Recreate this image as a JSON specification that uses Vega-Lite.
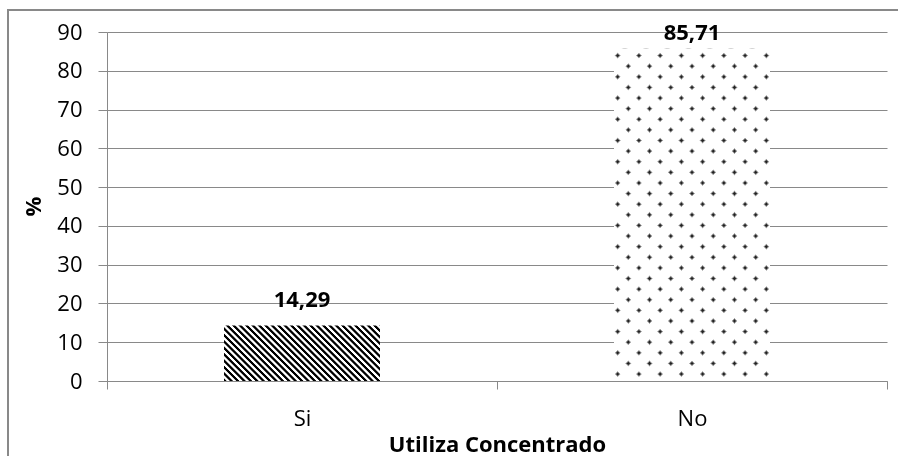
{
  "$schema": "https://vega.github.io/schema/vega-lite/v6.json",
  "width": 900,
  "height": 457,
  "autosize": {"type": "none"},
  "padding": {"left": 8, "top": 10, "right": -10, "bottom": -11},
  "background": "white",
  "config": {"view": {"stroke": "#898989", "strokeWidth": 2}, "font": "Open Sans"},
  "data": {"values": [
    {"Utiliza": "Si", "pct": 14.29, "label": "14,29"},
    {"Utiliza": "No", "pct": 85.71, "label": "85,71"}
  ]},
  "encoding": {
    "x": {
      "field": "Utiliza", "type": "nominal", "sort": ["Si", "No"],
      "scale": {"range": [99, 879], "paddingInner": 0, "paddingOuter": 0},
      "axis": {
        "title": "Utiliza Concentrado", "orient": "bottom", "offset": -86, "labelAngle": 0,
        "tickBand": "extent", "tickSize": 8, "tickColor": "#898989", "domainColor": "#898989",
        "labelFont": "Open Sans", "labelFontSize": 22, "labelColor": "#000", "labelBaseline": "alphabetic", "labelPadding": 36,
        "titleFont": "Open Sans", "titleFontSize": 22, "titleFontWeight": "bold", "titleColor": "#000",
        "titleX": 489, "titleY": 70, "titleBaseline": "alphabetic", "titleAlign": "center"
      }
    },
    "y": {
      "field": "pct", "type": "quantitative",
      "scale": {"domain": [0, 90], "range": [371, 22], "nice": false},
      "axis": {
        "title": "%", "offset": -99, "values": [0, 10, 20, 30, 40, 50, 60, 70, 80, 90],
        "grid": true, "gridColor": "#898989", "tickSize": 9, "tickColor": "#898989", "domainColor": "#898989",
        "labelFont": "Open Sans", "labelFontSize": 22, "labelColor": "#000", "labelPadding": 16,
        "titleFont": "Open Sans", "titleFontSize": 22, "titleFontWeight": "bold", "titleColor": "#000",
        "titleX": -67, "titleY": 196, "titleAngle": -90, "titleBaseline": "alphabetic", "titleAlign": "center"
      }
    }
  },
  "layer": [
    {
      "transform": [{"filter": "datum.Utiliza === 'Si'"}],
      "mark": {"type": "bar", "width": {"band": 0.4}, "color": {
        "gradient": "linear", "x1": 0, "y1": 1, "x2": 1.2034, "y2": 0.5726,
        "stops": [
          {"offset": 0, "color": "#000"}, {"offset": 0.0106, "color": "#000"}, {"offset": 0.0152, "color": "#fff"}, {"offset": 0.0258, "color": "#fff"},
          {"offset": 0.0303, "color": "#000"}, {"offset": 0.0409, "color": "#000"}, {"offset": 0.0455, "color": "#fff"}, {"offset": 0.0561, "color": "#fff"},
          {"offset": 0.0606, "color": "#000"}, {"offset": 0.0712, "color": "#000"}, {"offset": 0.0758, "color": "#fff"}, {"offset": 0.0864, "color": "#fff"},
          {"offset": 0.0909, "color": "#000"}, {"offset": 0.1015, "color": "#000"}, {"offset": 0.1061, "color": "#fff"}, {"offset": 0.1167, "color": "#fff"},
          {"offset": 0.1212, "color": "#000"}, {"offset": 0.1318, "color": "#000"}, {"offset": 0.1364, "color": "#fff"}, {"offset": 0.1470, "color": "#fff"},
          {"offset": 0.1515, "color": "#000"}, {"offset": 0.1621, "color": "#000"}, {"offset": 0.1667, "color": "#fff"}, {"offset": 0.1773, "color": "#fff"},
          {"offset": 0.1818, "color": "#000"}, {"offset": 0.1924, "color": "#000"}, {"offset": 0.1970, "color": "#fff"}, {"offset": 0.2076, "color": "#fff"},
          {"offset": 0.2121, "color": "#000"}, {"offset": 0.2227, "color": "#000"}, {"offset": 0.2273, "color": "#fff"}, {"offset": 0.2379, "color": "#fff"},
          {"offset": 0.2424, "color": "#000"}, {"offset": 0.2530, "color": "#000"}, {"offset": 0.2576, "color": "#fff"}, {"offset": 0.2682, "color": "#fff"},
          {"offset": 0.2727, "color": "#000"}, {"offset": 0.2833, "color": "#000"}, {"offset": 0.2879, "color": "#fff"}, {"offset": 0.2985, "color": "#fff"},
          {"offset": 0.3030, "color": "#000"}, {"offset": 0.3136, "color": "#000"}, {"offset": 0.3182, "color": "#fff"}, {"offset": 0.3288, "color": "#fff"},
          {"offset": 0.3333, "color": "#000"}, {"offset": 0.3439, "color": "#000"}, {"offset": 0.3485, "color": "#fff"}, {"offset": 0.3591, "color": "#fff"},
          {"offset": 0.3636, "color": "#000"}, {"offset": 0.3742, "color": "#000"}, {"offset": 0.3788, "color": "#fff"}, {"offset": 0.3894, "color": "#fff"},
          {"offset": 0.3939, "color": "#000"}, {"offset": 0.4045, "color": "#000"}, {"offset": 0.4091, "color": "#fff"}, {"offset": 0.4197, "color": "#fff"},
          {"offset": 0.4242, "color": "#000"}, {"offset": 0.4348, "color": "#000"}, {"offset": 0.4394, "color": "#fff"}, {"offset": 0.4500, "color": "#fff"},
          {"offset": 0.4545, "color": "#000"}, {"offset": 0.4651, "color": "#000"}, {"offset": 0.4697, "color": "#fff"}, {"offset": 0.4803, "color": "#fff"},
          {"offset": 0.4848, "color": "#000"}, {"offset": 0.4954, "color": "#000"}, {"offset": 0.5000, "color": "#fff"}, {"offset": 0.5106, "color": "#fff"},
          {"offset": 0.5152, "color": "#000"}, {"offset": 0.5258, "color": "#000"}, {"offset": 0.5304, "color": "#fff"}, {"offset": 0.5410, "color": "#fff"},
          {"offset": 0.5455, "color": "#000"}, {"offset": 0.5561, "color": "#000"}, {"offset": 0.5607, "color": "#fff"}, {"offset": 0.5713, "color": "#fff"},
          {"offset": 0.5758, "color": "#000"}, {"offset": 0.5864, "color": "#000"}, {"offset": 0.5910, "color": "#fff"}, {"offset": 0.6016, "color": "#fff"},
          {"offset": 0.6061, "color": "#000"}, {"offset": 0.6167, "color": "#000"}, {"offset": 0.6213, "color": "#fff"}, {"offset": 0.6319, "color": "#fff"},
          {"offset": 0.6364, "color": "#000"}, {"offset": 0.6470, "color": "#000"}, {"offset": 0.6516, "color": "#fff"}, {"offset": 0.6622, "color": "#fff"},
          {"offset": 0.6667, "color": "#000"}, {"offset": 0.6773, "color": "#000"}, {"offset": 0.6819, "color": "#fff"}, {"offset": 0.6925, "color": "#fff"},
          {"offset": 0.6970, "color": "#000"}, {"offset": 0.7076, "color": "#000"}, {"offset": 0.7122, "color": "#fff"}, {"offset": 0.7228, "color": "#fff"},
          {"offset": 0.7273, "color": "#000"}, {"offset": 0.7379, "color": "#000"}, {"offset": 0.7425, "color": "#fff"}, {"offset": 0.7531, "color": "#fff"},
          {"offset": 0.7576, "color": "#000"}, {"offset": 0.7682, "color": "#000"}, {"offset": 0.7728, "color": "#fff"}, {"offset": 0.7834, "color": "#fff"},
          {"offset": 0.7879, "color": "#000"}, {"offset": 0.7985, "color": "#000"}, {"offset": 0.8031, "color": "#fff"}, {"offset": 0.8137, "color": "#fff"},
          {"offset": 0.8182, "color": "#000"}, {"offset": 0.8288, "color": "#000"}, {"offset": 0.8334, "color": "#fff"}, {"offset": 0.8440, "color": "#fff"},
          {"offset": 0.8485, "color": "#000"}, {"offset": 0.8591, "color": "#000"}, {"offset": 0.8637, "color": "#fff"}, {"offset": 0.8743, "color": "#fff"},
          {"offset": 0.8788, "color": "#000"}, {"offset": 0.8894, "color": "#000"}, {"offset": 0.8940, "color": "#fff"}, {"offset": 0.9046, "color": "#fff"},
          {"offset": 0.9091, "color": "#000"}, {"offset": 0.9197, "color": "#000"}, {"offset": 0.9243, "color": "#fff"}, {"offset": 0.9349, "color": "#fff"},
          {"offset": 0.9394, "color": "#000"}, {"offset": 0.9500, "color": "#000"}, {"offset": 0.9546, "color": "#fff"}, {"offset": 0.9652, "color": "#fff"},
          {"offset": 0.9697, "color": "#000"}, {"offset": 0.9803, "color": "#000"}, {"offset": 0.9849, "color": "#fff"}, {"offset": 0.9955, "color": "#fff"},
          {"offset": 1, "color": "#000"}
        ]}}
    },
    {
      "transform": [{"filter": "datum.Utiliza === 'No'"}],
      "mark": {"type": "bar", "width": {"band": 0.4}, "color": {
        "gradient": "linear", "x1": 0, "y1": 0, "x2": 0.5651, "y2": 1.2041,
        "stops": [
          {"offset": 0.0147, "color": "#fff"}, {"offset": 0.0197, "color": "#222"}, {"offset": 0.0237, "color": "#222"}, {"offset": 0.0287, "color": "#fff"},
          {"offset": 0.0582, "color": "#fff"}, {"offset": 0.0632, "color": "#222"}, {"offset": 0.0672, "color": "#222"}, {"offset": 0.0722, "color": "#fff"},
          {"offset": 0.1017, "color": "#fff"}, {"offset": 0.1067, "color": "#222"}, {"offset": 0.1107, "color": "#222"}, {"offset": 0.1157, "color": "#fff"},
          {"offset": 0.1452, "color": "#fff"}, {"offset": 0.1502, "color": "#222"}, {"offset": 0.1542, "color": "#222"}, {"offset": 0.1592, "color": "#fff"},
          {"offset": 0.1887, "color": "#fff"}, {"offset": 0.1937, "color": "#222"}, {"offset": 0.1977, "color": "#222"}, {"offset": 0.2027, "color": "#fff"},
          {"offset": 0.2321, "color": "#fff"}, {"offset": 0.2371, "color": "#222"}, {"offset": 0.2411, "color": "#222"}, {"offset": 0.2461, "color": "#fff"},
          {"offset": 0.2756, "color": "#fff"}, {"offset": 0.2806, "color": "#222"}, {"offset": 0.2846, "color": "#222"}, {"offset": 0.2896, "color": "#fff"},
          {"offset": 0.3191, "color": "#fff"}, {"offset": 0.3241, "color": "#222"}, {"offset": 0.3281, "color": "#222"}, {"offset": 0.3331, "color": "#fff"},
          {"offset": 0.3626, "color": "#fff"}, {"offset": 0.3676, "color": "#222"}, {"offset": 0.3716, "color": "#222"}, {"offset": 0.3766, "color": "#fff"},
          {"offset": 0.4060, "color": "#fff"}, {"offset": 0.4110, "color": "#222"}, {"offset": 0.4150, "color": "#222"}, {"offset": 0.4200, "color": "#fff"},
          {"offset": 0.4495, "color": "#fff"}, {"offset": 0.4545, "color": "#222"}, {"offset": 0.4585, "color": "#222"}, {"offset": 0.4635, "color": "#fff"},
          {"offset": 0.4930, "color": "#fff"}, {"offset": 0.4980, "color": "#222"}, {"offset": 0.5020, "color": "#222"}, {"offset": 0.5070, "color": "#fff"},
          {"offset": 0.5365, "color": "#fff"}, {"offset": 0.5415, "color": "#222"}, {"offset": 0.5455, "color": "#222"}, {"offset": 0.5505, "color": "#fff"},
          {"offset": 0.5800, "color": "#fff"}, {"offset": 0.5850, "color": "#222"}, {"offset": 0.5890, "color": "#222"}, {"offset": 0.5940, "color": "#fff"},
          {"offset": 0.6234, "color": "#fff"}, {"offset": 0.6284, "color": "#222"}, {"offset": 0.6324, "color": "#222"}, {"offset": 0.6374, "color": "#fff"},
          {"offset": 0.6669, "color": "#fff"}, {"offset": 0.6719, "color": "#222"}, {"offset": 0.6759, "color": "#222"}, {"offset": 0.6809, "color": "#fff"},
          {"offset": 0.7104, "color": "#fff"}, {"offset": 0.7154, "color": "#222"}, {"offset": 0.7194, "color": "#222"}, {"offset": 0.7244, "color": "#fff"},
          {"offset": 0.7539, "color": "#fff"}, {"offset": 0.7589, "color": "#222"}, {"offset": 0.7629, "color": "#222"}, {"offset": 0.7679, "color": "#fff"},
          {"offset": 0.7973, "color": "#fff"}, {"offset": 0.8023, "color": "#222"}, {"offset": 0.8063, "color": "#222"}, {"offset": 0.8113, "color": "#fff"},
          {"offset": 0.8408, "color": "#fff"}, {"offset": 0.8458, "color": "#222"}, {"offset": 0.8498, "color": "#222"}, {"offset": 0.8548, "color": "#fff"},
          {"offset": 0.8843, "color": "#fff"}, {"offset": 0.8893, "color": "#222"}, {"offset": 0.8933, "color": "#222"}, {"offset": 0.8983, "color": "#fff"},
          {"offset": 0.9278, "color": "#fff"}, {"offset": 0.9328, "color": "#222"}, {"offset": 0.9368, "color": "#222"}, {"offset": 0.9418, "color": "#fff"},
          {"offset": 0.9713, "color": "#fff"}, {"offset": 0.9763, "color": "#222"}, {"offset": 0.9803, "color": "#222"}, {"offset": 0.9853, "color": "#fff"}
        ]}}
    },
    {
      "transform": [{"filter": "datum.Utiliza === 'No'"}],
      "mark": {"type": "bar", "width": {"band": 0.4}, "blend": "lighten", "color": {
        "gradient": "linear", "x1": 0, "y1": 1, "x2": 0.5651, "y2": -0.2041,
        "stops": [
          {"offset": 0.0147, "color": "#fff"}, {"offset": 0.0197, "color": "#222"}, {"offset": 0.0237, "color": "#222"}, {"offset": 0.0287, "color": "#fff"},
          {"offset": 0.0582, "color": "#fff"}, {"offset": 0.0632, "color": "#222"}, {"offset": 0.0672, "color": "#222"}, {"offset": 0.0722, "color": "#fff"},
          {"offset": 0.1017, "color": "#fff"}, {"offset": 0.1067, "color": "#222"}, {"offset": 0.1107, "color": "#222"}, {"offset": 0.1157, "color": "#fff"},
          {"offset": 0.1452, "color": "#fff"}, {"offset": 0.1502, "color": "#222"}, {"offset": 0.1542, "color": "#222"}, {"offset": 0.1592, "color": "#fff"},
          {"offset": 0.1887, "color": "#fff"}, {"offset": 0.1937, "color": "#222"}, {"offset": 0.1977, "color": "#222"}, {"offset": 0.2027, "color": "#fff"},
          {"offset": 0.2321, "color": "#fff"}, {"offset": 0.2371, "color": "#222"}, {"offset": 0.2411, "color": "#222"}, {"offset": 0.2461, "color": "#fff"},
          {"offset": 0.2756, "color": "#fff"}, {"offset": 0.2806, "color": "#222"}, {"offset": 0.2846, "color": "#222"}, {"offset": 0.2896, "color": "#fff"},
          {"offset": 0.3191, "color": "#fff"}, {"offset": 0.3241, "color": "#222"}, {"offset": 0.3281, "color": "#222"}, {"offset": 0.3331, "color": "#fff"},
          {"offset": 0.3626, "color": "#fff"}, {"offset": 0.3676, "color": "#222"}, {"offset": 0.3716, "color": "#222"}, {"offset": 0.3766, "color": "#fff"},
          {"offset": 0.4060, "color": "#fff"}, {"offset": 0.4110, "color": "#222"}, {"offset": 0.4150, "color": "#222"}, {"offset": 0.4200, "color": "#fff"},
          {"offset": 0.4495, "color": "#fff"}, {"offset": 0.4545, "color": "#222"}, {"offset": 0.4585, "color": "#222"}, {"offset": 0.4635, "color": "#fff"},
          {"offset": 0.4930, "color": "#fff"}, {"offset": 0.4980, "color": "#222"}, {"offset": 0.5020, "color": "#222"}, {"offset": 0.5070, "color": "#fff"},
          {"offset": 0.5365, "color": "#fff"}, {"offset": 0.5415, "color": "#222"}, {"offset": 0.5455, "color": "#222"}, {"offset": 0.5505, "color": "#fff"},
          {"offset": 0.5800, "color": "#fff"}, {"offset": 0.5850, "color": "#222"}, {"offset": 0.5890, "color": "#222"}, {"offset": 0.5940, "color": "#fff"},
          {"offset": 0.6234, "color": "#fff"}, {"offset": 0.6284, "color": "#222"}, {"offset": 0.6324, "color": "#222"}, {"offset": 0.6374, "color": "#fff"},
          {"offset": 0.6669, "color": "#fff"}, {"offset": 0.6719, "color": "#222"}, {"offset": 0.6759, "color": "#222"}, {"offset": 0.6809, "color": "#fff"},
          {"offset": 0.7104, "color": "#fff"}, {"offset": 0.7154, "color": "#222"}, {"offset": 0.7194, "color": "#222"}, {"offset": 0.7244, "color": "#fff"},
          {"offset": 0.7539, "color": "#fff"}, {"offset": 0.7589, "color": "#222"}, {"offset": 0.7629, "color": "#222"}, {"offset": 0.7679, "color": "#fff"},
          {"offset": 0.7973, "color": "#fff"}, {"offset": 0.8023, "color": "#222"}, {"offset": 0.8063, "color": "#222"}, {"offset": 0.8113, "color": "#fff"},
          {"offset": 0.8408, "color": "#fff"}, {"offset": 0.8458, "color": "#222"}, {"offset": 0.8498, "color": "#222"}, {"offset": 0.8548, "color": "#fff"},
          {"offset": 0.8843, "color": "#fff"}, {"offset": 0.8893, "color": "#222"}, {"offset": 0.8933, "color": "#222"}, {"offset": 0.8983, "color": "#fff"},
          {"offset": 0.9278, "color": "#fff"}, {"offset": 0.9328, "color": "#222"}, {"offset": 0.9368, "color": "#222"}, {"offset": 0.9418, "color": "#fff"},
          {"offset": 0.9713, "color": "#fff"}, {"offset": 0.9763, "color": "#222"}, {"offset": 0.9803, "color": "#222"}, {"offset": 0.9853, "color": "#fff"}
        ]}}
    },
    {
      "transform": [{"filter": "datum.Utiliza === 'Si'"}],
      "mark": {"type": "text", "baseline": "alphabetic", "dy": -19, "font": "Open Sans", "fontSize": 22, "fontWeight": "bold", "color": "#000"},
      "encoding": {"text": {"field": "label"}}
    },
    {
      "transform": [{"filter": "datum.Utiliza === 'No'"}],
      "mark": {"type": "text", "baseline": "alphabetic", "dy": -9, "font": "Open Sans", "fontSize": 22, "fontWeight": "bold", "color": "#000"},
      "encoding": {"text": {"field": "label"}}
    }
  ]
}
